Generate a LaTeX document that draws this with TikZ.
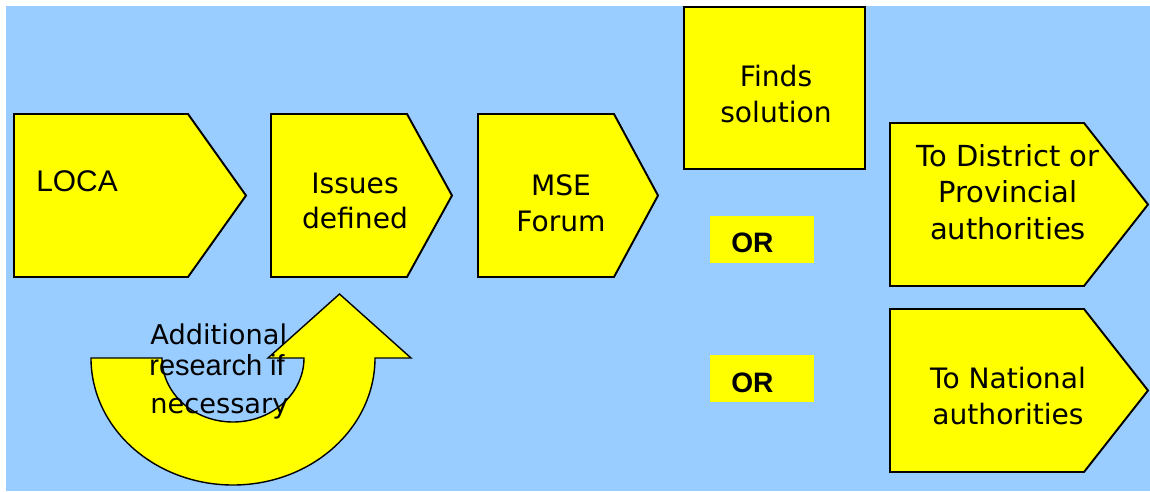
\documentclass[tikz,border=0pt]{standalone}
\usepackage{fontspec}
\setmainfont{DejaVu Sans}
\newfontfamily\arialfont{Liberation Sans}
\usetikzlibrary{positioning}
\definecolor{skyblue}{RGB}{153,204,255}
\definecolor{boxyellow}{RGB}{255,255,0}

\begin{document}
\begin{tikzpicture}
[x=0.02cm,y=-0.02cm,
 penta/.style={draw=black,fill=boxyellow,line width=1.1pt,line join=miter},
 uturn/.style={draw=black,fill=boxyellow,line width=0.8pt,line join=miter},
 boxtext/.style={align=center,inner sep=0pt,font=\fontsize{16}{20.4}\selectfont},
 ortext/.style={anchor=base west,inner sep=0pt,font=\arialfont\bfseries\fontsize{16}{19}\selectfont}]
\useasboundingbox (0,0) rectangle (1150,491);
\fill[skyblue] (6,6) rectangle (1150,491);

% top row
\draw[penta] (14,114) -- (188,114) -- (246,195.5) -- (188,277) -- (14,277) -- cycle;
\draw[penta] (271,114) -- (407,114) -- (452,195.5) -- (407,277) -- (271,277) -- cycle;
\draw[penta] (478,114) -- (614,114) -- (658,195.5) -- (614,277) -- (478,277) -- cycle;
\draw[penta] (684,7) rectangle (865,169);

% right column
\draw[penta] (890,123) -- (1084,123) -- (1148,204.5) -- (1084,286) -- (890,286) -- cycle;
\draw[penta] (890,309) -- (1084,309) -- (1148,390.5) -- (1084,472) -- (890,472) -- cycle;
\fill[boxyellow] (710,216) rectangle (814,263);
\fill[boxyellow] (710,355) rectangle (814,402);

% curved arrow
\draw[uturn] (91,358) arc[start angle=180,end angle=0,x radius=142,y radius=127]
  -- (411,358) -- (339.5,294) -- (268,358) -- (304,358)
  arc[start angle=0,end angle=180,x radius=71,y radius=64] -- cycle;

\node[anchor=base west,inner sep=0pt,font=\arialfont\fontsize{17}{20}\selectfont] (loca) at (36,191) {LOCA};
\node[boxtext] (issues) at (355,201) {Issues\\defined};
\node[boxtext] (mse) at (561,203) {MSE\\Forum};
\node[boxtext] (finds) at (776,94) {Finds\\solution};
\node[boxtext,font=\fontsize{16.5}{20.8}\selectfont] (district) at (1008,192) {To District or\\Provincial\\authorities};
\node[boxtext] (national) at (1008,396) {To National\\authorities};
\node[ortext] (or1) at (731,252) {OR};
\node[ortext] (or2) at (731,392) {OR};

\node[anchor=base west,inner sep=0pt,font=\fontsize{15.5}{19}\selectfont] (addl) at (150,344) {Additional};
\node[anchor=base west,inner sep=0pt,font=\arialfont\fontsize{16.5}{19}\selectfont] (research) at (149,375) {research if};
\node[anchor=base west,inner sep=0pt,font=\fontsize{15.5}{19}\selectfont] (necessary) at (150,413) {necessary};
\end{tikzpicture}
\end{document}
